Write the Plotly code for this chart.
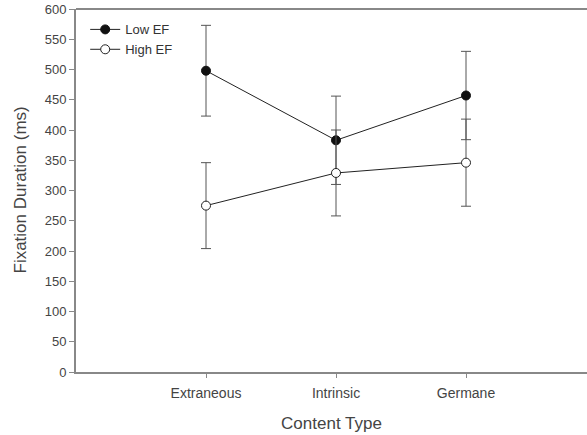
import plotly.graph_objects as go

categories = ["Extraneous", "Intrinsic", "Germane"]
x_pos = [1, 2, 3]
low_ef = [498, 383, 457]
low_ef_err = [75, 73, 73]
high_ef = [275, 329, 346]
high_ef_err = [71, 71, 72]
y_ticks = list(range(0, 601, 50))

fig = go.Figure()
fig.add_trace(go.Scatter(
    x=x_pos, y=low_ef, name="Low EF", mode="lines+markers",
    line=dict(color="#222222", width=1),
    marker=dict(symbol="circle", size=9, color="#111111", line=dict(color="#111111", width=1)),
    error_y=dict(type="data", array=low_ef_err, visible=True, color="#555555", thickness=1, width=5),
))
fig.add_trace(go.Scatter(
    x=x_pos, y=high_ef, name="High EF", mode="lines+markers",
    line=dict(color="#222222", width=1),
    marker=dict(symbol="circle", size=9, color="white", line=dict(color="#222222", width=1)),
    error_y=dict(type="data", array=high_ef_err, visible=True, color="#555555", thickness=1, width=5),
))

fam = "Liberation Sans, Arial, sans-serif"
fig.update_layout(
    width=587, height=435,
    margin=dict(l=76, r=0, t=9, b=63),
    paper_bgcolor="white", plot_bgcolor="white",
    font=dict(family=fam, size=13, color="#444444"),
    showlegend=True,
    legend=dict(x=0.018, y=0.985, xanchor="left", yanchor="top",
                bgcolor="rgba(0,0,0,0)", font=dict(size=13, color="#333333"),
                tracegroupgap=0, itemwidth=30),
    xaxis=dict(
        range=[0, 511 / 130], tickmode="array", tickvals=x_pos, ticktext=categories,
        showline=True, linecolor="#888888", linewidth=2, mirror=False,
        ticks="outside", ticklen=4, tickcolor="#888888", showgrid=False, zeroline=False,
        tickfont=dict(size=14, color="#444444"), ticklabelstandoff=3,
        title=dict(text="Content Type", font=dict(size=17, color="#444444"), standoff=17),
    ),
    yaxis=dict(
        range=[0, 600], tickmode="array", tickvals=y_ticks,
        showline=True, linecolor="#888888", linewidth=2,
        ticks="outside", ticklen=5, tickcolor="#888888", showgrid=False, zeroline=False,
        tickfont=dict(size=13, color="#444444"),
    ),
    annotations=[dict(
        text="Fixation Duration (ms)", textangle=-90, showarrow=False,
        xref="paper", yref="paper", x=(20 - 76) / 511, y=0.5,
        xanchor="center", yanchor="middle",
        font=dict(size=17, color="#444444"),
    )],
)
fig.add_shape(type="line", xref="paper", yref="paper", x0=0, x1=1, y0=1, y1=1,
              line=dict(color="#888888", width=2))

fig.write_html("out.html", config={"displayModeBar": False},
               post_script="document.body.style.margin='0';")
